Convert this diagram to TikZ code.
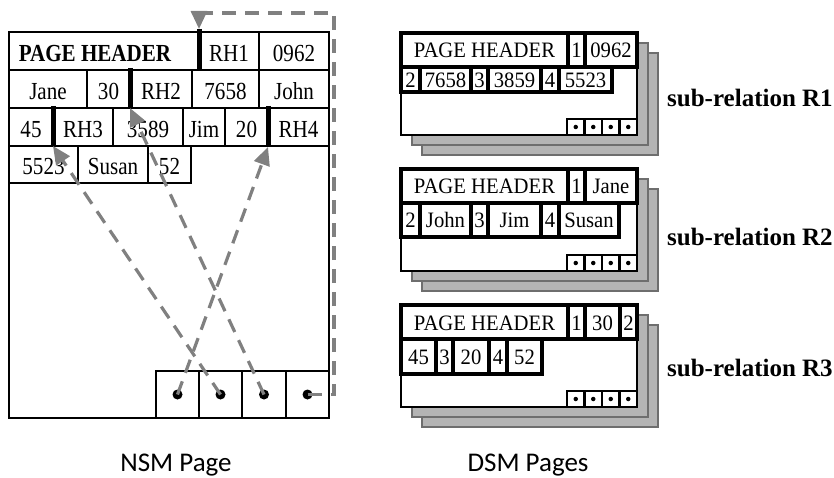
\documentclass[tikz,border=0pt]{standalone}
\usepackage{fontspec}
\setmainfont{Liberation Serif}
\newfontfamily\nsmfont[FakeStretch=0.86]{Liberation Serif}
\newfontfamily\dsmfont[FakeStretch=0.94]{Liberation Serif}
\newfontfamily\capfont{Carlito}
\usetikzlibrary{arrows.meta}
\definecolor{arrgray}{RGB}{128,128,128}
\definecolor{pagegray}{RGB}{180,180,180}
\definecolor{pageedge}{RGB}{110,110,110}
\newcommand\nsmcell[6]{\node[ncell,minimum width={#3-#2},minimum height={#5-#4}] (#1) at ({(#2+#3)/2},{(#4+#5)/2}) {#6};}
\newcommand\dsmcell[6]{\node[dcell,minimum width={#3-#2},minimum height={#5-#4}] (#1) at ({(#2+#3)/2},{(#4+#5)/2}) {#6};}
\newcommand\dsmslot[3]{\node[dslot,minimum width={#3-#2},minimum height=16] (#1) at ({(#2+#3)/2},94) {};
  \node[ddot] (#1d) at (#1.center) {};}
\begin{document}
\begin{tikzpicture}[x=1pt,y=-1pt,
  ncell/.style={draw,line width=1.7pt,inner sep=0pt,font=\nsmfont\fontsize{24.5}{26}\selectfont,text height=21pt,text depth=0pt},
  dcell/.style={draw,line width=3.4pt,fill=white,inner sep=0pt,font=\dsmfont\fontsize{22}{24}\selectfont,text height=16pt,text depth=0pt},
  dslot/.style={draw,line width=2.4pt,fill=white,inner sep=0pt},
  ndot/.style={circle,fill=black,inner sep=0pt,minimum size=10pt},
  ddot/.style={circle,fill=black,inner sep=0pt,minimum size=4.5pt},
  bar/.style={line width=5pt,black},
  arr/.style={draw=arrgray,line width=3.2pt,dash pattern=on 14pt off 9pt,
    -{Triangle[length=18pt,width=16pt,fill=arrgray]}},
  backpg/.style={draw=pageedge,fill=pagegray,line width=1.4pt},
  frontpg/.style={draw=black,fill=white,line width=1.4pt},
  lab/.style={font=\bfseries\fontsize{25}{30}\selectfont,inner sep=0pt},
  capt/.style={font=\capfont\fontsize{27}{30}\selectfont,inner sep=0pt}]
\useasboundingbox (0,0) rectangle (834,478);

% ---------------- NSM page ----------------
\node[draw,line width=2pt,minimum width=320,minimum height=386,inner sep=0pt] (nsm) at (169,225) {};
\nsmcell{ph}{9}{199}{32}{70}{\bfseries PAGE HEADER\kern18pt}
\nsmcell{rh1}{199}{259}{32}{70}{RH1}
\nsmcell{v0962}{259}{329}{32}{70}{0962}
\nsmcell{jane}{9}{87}{70}{108}{Jane}
\nsmcell{v30}{87}{130}{70}{108}{30}
\nsmcell{rh2}{130}{192}{70}{108}{RH2}
\nsmcell{v7658}{192}{259}{70}{108}{7658}
\nsmcell{john}{259}{329}{70}{108}{John}
\nsmcell{v45}{9}{53}{108}{146}{45}
\nsmcell{rh3}{53}{113}{108}{146}{RH3}
\nsmcell{v3589}{113}{183}{108}{146}{3589}
\nsmcell{jim}{183}{225}{108}{146}{Jim}
\nsmcell{v20}{225}{268}{108}{146}{20}
\nsmcell{rh4}{268}{329}{108}{146}{RH4}
\nsmcell{v5523}{9}{78}{146}{183}{5523}
\nsmcell{susan}{78}{148}{146}{183}{Susan}
\nsmcell{v52}{148}{191}{146}{183}{52}
\nsmcell{s1}{156}{199}{371}{418}{}
\nsmcell{s2}{199}{242}{371}{418}{}
\nsmcell{s3}{242}{286}{371}{418}{}
\nsmcell{s4}{286}{329}{371}{418}{}
\node[ndot] (d1) at (s1.center) {};
\node[ndot] (d2) at (s2.center) {};
\node[ndot] (d3) at (s3.center) {};
\node[ndot] (d4) at (s4.center) {};

\coordinate (b1t) at (199,29);  \coordinate (b1b) at (199,71);
\coordinate (b2t) at (130,68);  \coordinate (b2b) at (130,108);
\coordinate (b3t) at (53,106);  \coordinate (b3b) at (53,146);
\coordinate (b4t) at (268,106); \coordinate (b4b) at (268,147);
\coordinate (turn) at (334,13);
\draw[bar] (b1t) -- (b1b);
\draw[bar] (b2t) -- (b2b);
\draw[bar] (b3t) -- (b3b);
\draw[bar] (b4t) -- (b4b);

\draw[arr] (d1.center) -- (b4b);
\draw[arr] (d2.center) -- (b3b);
\draw[arr] (d3.center) -- (b2b);
\draw[arr] (d4.center) -| (turn) -| (b1t);

% ---------------- DSM pages ----------------
% R1
\begin{scope}[shift={(0,33)}]
\draw[backpg] (422,20) rectangle (658,122);
\draw[backpg] (412,10) rectangle (648,112);
\draw[frontpg] (401,0) rectangle (637,102);
\dsmcell{aph}{401}{568}{0}{34}{PAGE HEADER}
\dsmcell{aone}{568}{585}{0}{34}{1}
\dsmcell{ava}{585}{637}{0}{34}{0962}
\dsmcell{atwo}{401}{420}{34}{59}{2}
\dsmcell{avb}{420}{471}{34}{59}{7658}
\dsmcell{athree}{471}{488}{34}{59}{3}
\dsmcell{avc}{488}{541}{34}{59}{3859}
\dsmcell{afour}{541}{559}{34}{59}{4}
\dsmcell{avd}{559}{612}{34}{59}{5523}
\dsmslot{aq1}{567}{584.5}
\dsmslot{aq2}{584.5}{602}
\dsmslot{aq3}{602}{619.5}
\dsmslot{aq4}{619.5}{637}
\end{scope}
% R2
\begin{scope}[shift={(0,169)}]
\draw[backpg] (422,20) rectangle (658,122);
\draw[backpg] (412,10) rectangle (648,112);
\draw[frontpg] (401,0) rectangle (637,102);
\dsmcell{bph}{401}{568}{0}{34}{PAGE HEADER}
\dsmcell{bone}{568}{585}{0}{34}{1}
\dsmcell{bva}{585}{637}{0}{34}{Jane}
\dsmcell{btwo}{401}{420}{34}{68}{2}
\dsmcell{bvb}{420}{471}{34}{68}{John}
\dsmcell{bthree}{471}{488}{34}{68}{3}
\dsmcell{bvc}{488}{541}{34}{68}{Jim}
\dsmcell{bfour}{541}{559}{34}{68}{4}
\dsmcell{bvd}{559}{619}{34}{68}{Susan}
\dsmslot{bq1}{567}{584.5}
\dsmslot{bq2}{584.5}{602}
\dsmslot{bq3}{602}{619.5}
\dsmslot{bq4}{619.5}{637}
\end{scope}
% R3
\begin{scope}[shift={(0,305)}]
\draw[backpg] (422,20) rectangle (658,122);
\draw[backpg] (412,10) rectangle (648,112);
\draw[frontpg] (401,0) rectangle (637,102);
\dsmcell{cph}{401}{568}{0}{34}{PAGE HEADER}
\dsmcell{cone}{568}{585}{0}{34}{1}
\dsmcell{cva}{585}{620}{0}{34}{30}
\dsmcell{ctwo}{620}{637}{0}{34}{2}
\dsmcell{cvb}{401}{436}{34}{69}{45}
\dsmcell{cthree}{436}{453}{34}{69}{3}
\dsmcell{cvc}{453}{489}{34}{69}{20}
\dsmcell{cfour}{489}{507}{34}{69}{4}
\dsmcell{cvd}{507}{542}{34}{69}{52}
\dsmslot{cq1}{567}{584.5}
\dsmslot{cq2}{584.5}{602}
\dsmslot{cq3}{602}{619.5}
\dsmslot{cq4}{619.5}{637}
\end{scope}

\node[lab,anchor=base west] (lr1) at (667,107) {sub-relation R1};
\node[lab,anchor=base west] (lr2) at (667,245) {sub-relation R2};
\node[lab,anchor=base west] (lr3) at (667,376) {sub-relation R3};

\node[capt,anchor=base] (nsmcap) at (176,471) {NSM Page};
\node[capt,anchor=base] (dsmcap) at (528,471) {DSM Pages};
\end{tikzpicture}
\end{document}
